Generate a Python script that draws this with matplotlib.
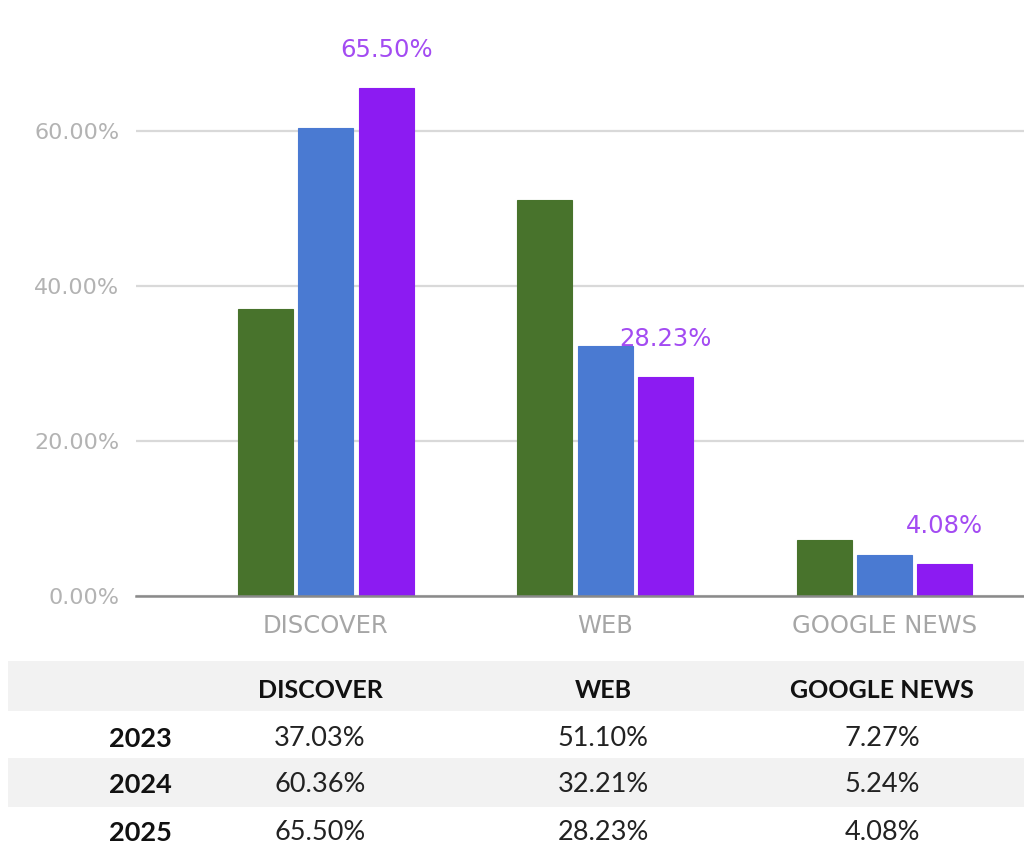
import matplotlib
matplotlib.use("Agg")
import matplotlib.pyplot as plt
from matplotlib.patches import Rectangle
import numpy as np

categories = ["DISCOVER", "WEB", "GOOGLE NEWS"]
years = ["2023", "2024", "2025"]
values_2023 = [37.03, 51.10, 7.27]
values_2024 = [60.36, 32.21, 5.24]
values_2025 = [65.50, 28.23, 4.08]
yticks = [0, 20, 40, 60]
ytick_labels = ["0.00%", "20.00%", "40.00%", "60.00%"]

series = [values_2023, values_2024, values_2025]
colors = ["#48732c", "#4a7ad2", "#8c1bf2"]
label_color = "#a34bf2"

W, H = 1024, 864
fig = plt.figure(figsize=(W / 100, H / 100), dpi=100)

# axes geometry in pixels
ax_left, ax_right = 136, 1024
base_y = 596
px_per_pct = 7.75
ymax = 74
ax_top = base_y - ymax * px_per_pct
ax = fig.add_axes([ax_left / W, (H - base_y) / H, (ax_right - ax_left) / W,
                   (base_y - ax_top) / H])

x = np.arange(len(categories))
width = 0.197
offset = 0.216
containers = []
for i, (vals, c) in enumerate(zip(series, colors)):
    cont = ax.bar(x + (i - 1) * offset, vals, width, color=c,
                  edgecolor=c, linewidth=0.8, zorder=3)
    containers.append(cont)

ax.bar_label(containers[2], labels=[f"{v:.2f}%" for v in values_2025],
             padding=19, color=label_color, fontsize=17.5, family="DejaVu Sans")

ax.set_xlim(-0.68, 2.50)
ax.set_ylim(0, ymax)
ax.set_yticks(yticks)
ax.set_yticklabels(ytick_labels)
ax.set_xticks(x)
ax.set_xticklabels(categories)
ax.tick_params(axis="y", length=0, pad=12, labelsize=16, labelcolor="#b3b3b3")
ax.tick_params(axis="x", length=0, pad=13, labelsize=17.5, labelcolor="#a6a6a6")
ax.grid(axis="y", color="#d9d9d9", linewidth=1.6, zorder=0)
for s in ["top", "right", "left"]:
    ax.spines[s].set_visible(False)
ax.spines["bottom"].set_color("#8a8a8a")
ax.spines["bottom"].set_linewidth(1.8)
ax.spines["bottom"].set_zorder(4)

# Table
tfont = "Lato"
col_x = [140, 320, 603, 882]
row_y = [690, 739, 785, 833]
row_bounds = [(661, 711), (711, 758), (758, 807), (807, 864)]
shade = [True, False, True, False]
for (y0, y1), sh in zip(row_bounds, shade):
    if sh:
        fig.patches.append(Rectangle((8 / W, (H - y1) / H), (W - 8) / W,
                                     (y1 - y0) / H, transform=fig.transFigure,
                                     facecolor="#f2f2f2", edgecolor="none"))

def fy(py):
    return (H - py) / H

for cx, cat in zip(col_x[1:], categories):
    fig.text(cx / W, fy(row_y[0]), cat, ha="center", va="center",
             fontsize=18, fontweight="bold", family=tfont, color="#111111")
for r, (yr, vals) in enumerate(zip(years, series)):
    ry = row_y[r + 1]
    fig.text(col_x[0] / W, fy(ry), yr, ha="center", va="center",
             fontsize=19.5, fontweight="bold", family=tfont, color="#111111")
    for cx, v in zip(col_x[1:], vals):
        fig.text(cx / W, fy(ry), f"{v:.2f}%", ha="center", va="center",
                 fontsize=19.5, family=tfont, color="#222222")

fig.savefig("out.png", dpi=100)
